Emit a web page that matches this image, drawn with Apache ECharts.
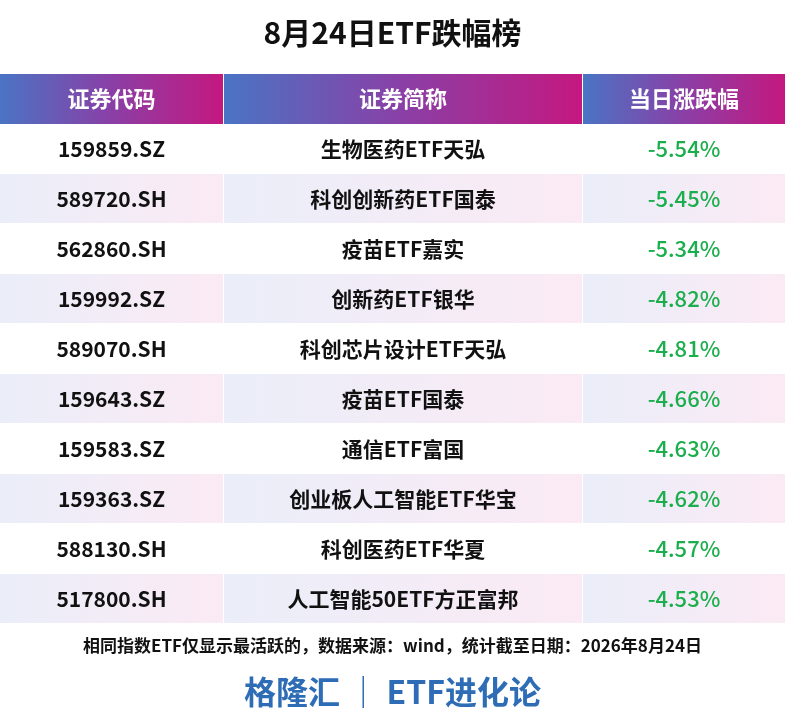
<!DOCTYPE html>
<html><head><meta charset="utf-8">
<script src="https://cdn.jsdelivr.net/npm/echarts@6/dist/echarts.min.js"></script>
<style>html,body{margin:0;padding:0;background:#fff}#c{width:785px;height:726px}</style>
</head><body><div id="c"></div>
<script>
const title = "8月24日ETF跌幅榜";
const headers = ["证券代码", "证券简称", "当日涨跌幅"];
const codes = ["159859.SZ","589720.SH","562860.SH","159992.SZ","589070.SH","159643.SZ","159583.SZ","159363.SZ","588130.SH","517800.SH"];
const names = ["生物医药ETF天弘","科创创新药ETF国泰","疫苗ETF嘉实","创新药ETF银华","科创芯片设计ETF天弘","疫苗ETF国泰","通信ETF富国","创业板人工智能ETF华宝","科创医药ETF华夏","人工智能50ETF方正富邦"];
const changes = [-5.54,-5.45,-5.34,-4.82,-4.81,-4.66,-4.63,-4.62,-4.57,-4.53];
const note = "相同指数ETF仅显示最活跃的，数据来源：wind，统计截至日期：2026年8月24日";
const brand = "格隆汇 ｜ ETF进化论";

const FONT = '"Noto Sans CJK SC", sans-serif';
const cols = [[0, 223], [224, 582], [583, 785]];
const chart = echarts.init(document.getElementById('c'));
const headGrad = () => new echarts.graphic.LinearGradient(0, 0, 1, 0, [{offset: 0, color: '#4a74c4'}, {offset: 0.5, color: '#8a3fa6'}, {offset: 1, color: '#c4187f'}]);
const rowGrad = () => new echarts.graphic.LinearGradient(0, 0, 1, 0, [{offset: 0, color: '#eaeef9'}, {offset: 1, color: '#fbeaf4'}]);

const graphics = [
  {type: 'text', left: 'center', top: 18, style: {text: title, font: 'bold 30px ' + FONT, fill: '#111'}},
  {type: 'text', left: 'center', top: 637, style: {text: note, font: 'bold 17px ' + FONT, fill: '#111'}},
  {type: 'text', left: 'center', top: 676, style: {text: brand, font: 'bold 32px ' + FONT, fill: '#2e6db5'}}
];
cols.forEach((c, i) => {
  graphics.push({type: 'rect', shape: {x: c[0], y: 74, width: c[1] - c[0], height: 50}, style: {fill: headGrad()}});
  graphics.push({type: 'text', x: (c[0] + c[1]) / 2, y: 99, style: {text: headers[i], font: 'bold 22px ' + FONT, fill: '#fff', align: 'center', verticalAlign: 'middle'}});
});

chart.setOption({
  animation: false,
  grid: {left: 0, right: 0, top: 124, bottom: 102},
  xAxis: {type: 'value', min: 0, max: 785, show: false},
  yAxis: {type: 'category', inverse: true, data: codes, show: false},
  graphic: graphics,
  series: [{
    type: 'custom',
    data: codes.map((c, i) => [i]),
    renderItem: (params, api) => {
      const i = api.value(0);
      const yc = api.coord([0, i])[1];
      const h = api.size([0, 1])[1];
      const children = [];
      const texts = [codes[i], names[i], changes[i].toFixed(2) + '%'];
      cols.forEach((c, k) => {
        if (i % 2 === 1) {
          children.push({type: 'rect', shape: {x: c[0], y: yc - h / 2, width: c[1] - c[0], height: h - 1}, style: {fill: rowGrad()}});
        }
        children.push({type: 'text', x: (c[0] + c[1]) / 2, y: yc, style: {text: texts[k], font: (k === 2 ? '500 22px ' : 'bold 21px ') + FONT, fill: k === 2 ? '#1aae4c' : '#111', align: 'center', verticalAlign: 'middle'}});
      });
      return {type: 'group', children};
    }
  }]
});
</script></body></html>
